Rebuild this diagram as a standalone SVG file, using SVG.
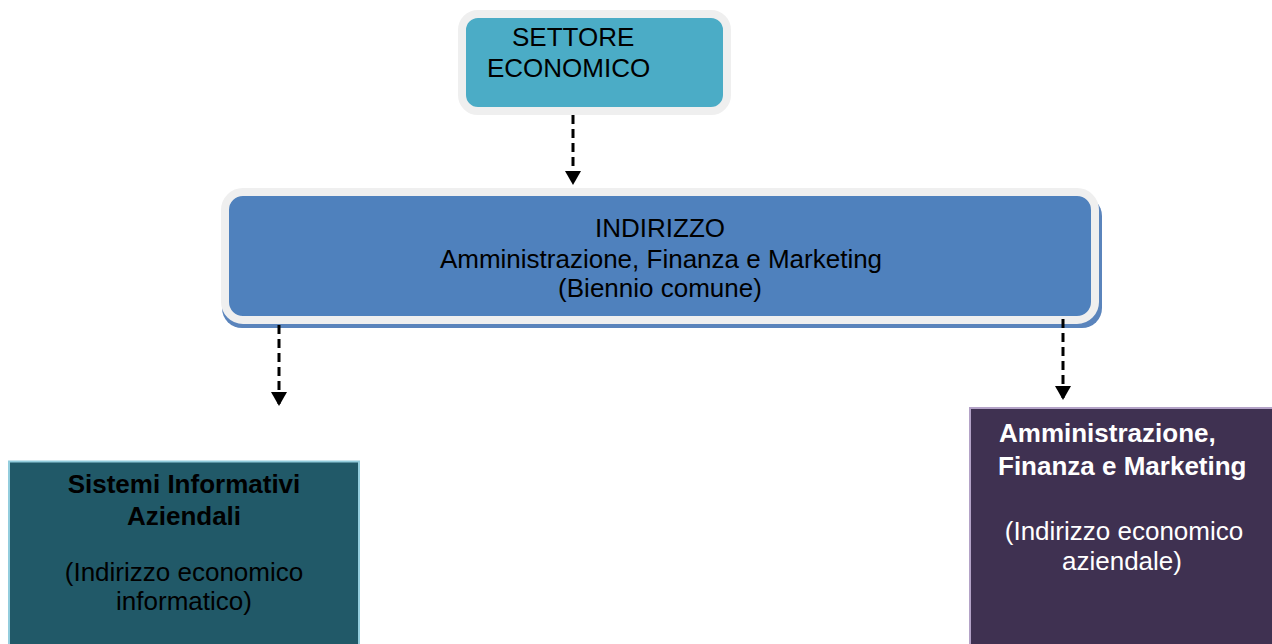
<svg xmlns="http://www.w3.org/2000/svg" width="1272" height="644" viewBox="0 0 1272 644">
  <style>
    text { font-family: "Liberation Sans", Arial, sans-serif; font-size: 26px; fill: #000; }
    .c { text-anchor: middle; }
    .b { font-weight: bold; }
    .w { fill: #fff; }
    .conn { stroke: #000; stroke-width: 3; stroke-dasharray: 9 5; fill: none; }
  </style>
  <defs>
    <marker id="arrow" viewBox="0 0 14 16" refX="14" refY="8" markerWidth="14" markerHeight="16" markerUnits="userSpaceOnUse" orient="auto">
      <path d="M0,0 L14,8 L0,16 z" fill="#000"/>
    </marker>
  </defs>
  <rect width="1272" height="644" fill="#fff"/>

  <g id="node-settore">
    <rect x="462" y="14" width="265" height="97" rx="16" fill="#4BACC6" stroke="#EFEFEF" stroke-width="8"/>
    <text x="512" y="46">SETTORE</text>
    <text x="487" y="77">ECONOMICO</text>
  </g>

  <g id="node-indirizzo">
    <rect x="222" y="196" width="880" height="132" rx="20" fill="#5A84BC"/>
    <rect x="225" y="192" width="870" height="128" rx="18" fill="#4F81BD" stroke="#EFEFEF" stroke-width="8"/>
    <text class="c" x="660" y="237">INDIRIZZO</text>
    <text class="c" x="661" y="268">Amministrazione, Finanza e Marketing</text>
    <text class="c" x="660" y="297">(Biennio comune)</text>
  </g>

  <g id="node-sia">
    <rect x="9" y="461.5" width="350" height="200" fill="#215968" stroke="#93CDDD" stroke-width="2"/>
    <text class="b c" x="184" y="493">Sistemi Informativi</text>
    <text class="b c" x="184" y="525">Aziendali</text>
    <text class="c" x="184" y="581">(Indirizzo economico</text>
    <text class="c" x="184" y="610">informatico)</text>
  </g>

  <g id="node-afm">
    <rect x="970" y="408" width="310" height="250" fill="#3F3151" stroke="#B3A2C7" stroke-width="2"/>
    <text class="b w" x="999" y="442">Amministrazione,</text>
    <text class="b w" x="998" y="475">Finanza e Marketing</text>
    <text class="w c" x="1124" y="540">(Indirizzo economico</text>
    <text class="w c" x="1122" y="570">aziendale)</text>
  </g>

  <g id="connectors">
    <line class="conn" x1="573" y1="115" x2="573" y2="185" marker-end="url(#arrow)"/>
    <line class="conn" x1="279" y1="325" x2="279" y2="406" marker-end="url(#arrow)"/>
    <line class="conn" x1="1063" y1="319" x2="1063" y2="400" marker-end="url(#arrow)"/>
  </g>
</svg>
